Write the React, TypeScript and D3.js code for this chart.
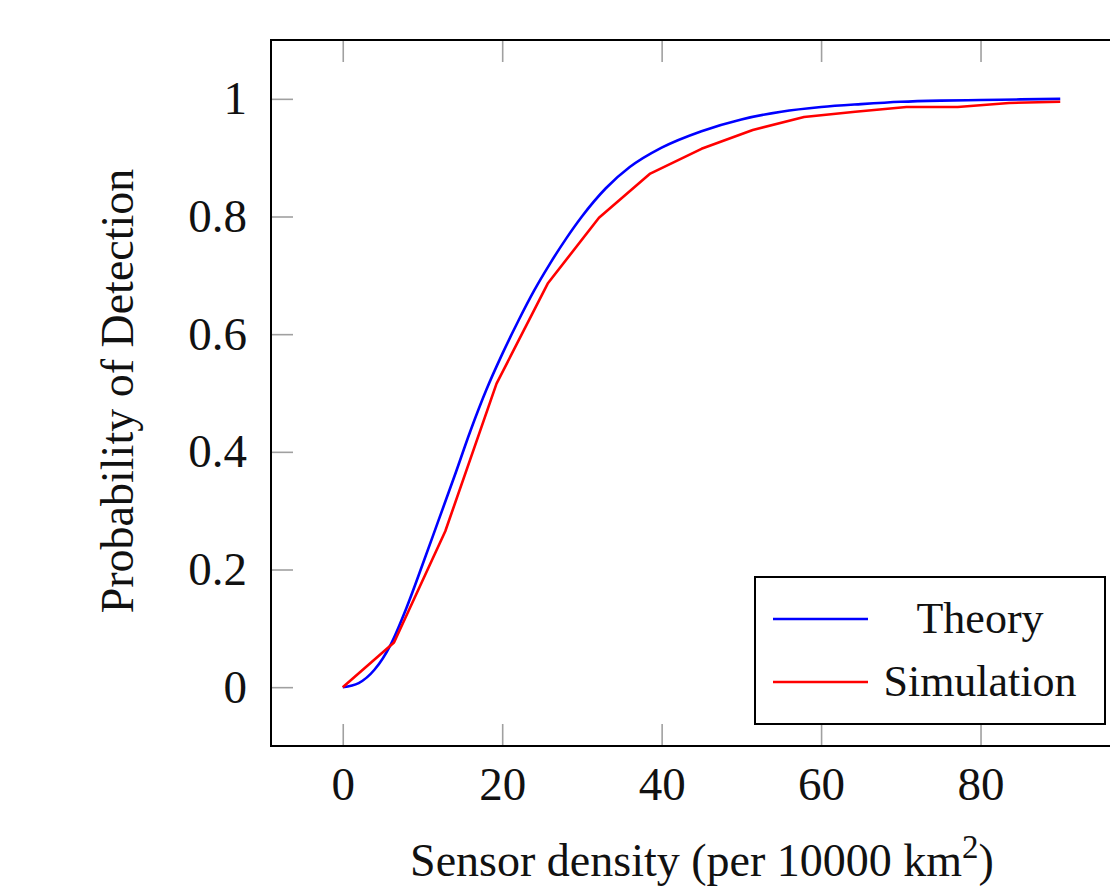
import React, { useEffect, useRef } from "react";
import * as d3 from "d3";

// theory curve (smooth)
const theoryX = [0, 2, 4, 6, 8, 10, 12, 14, 16, 18, 20, 22, 24, 26, 28, 30, 33, 36, 40, 45, 50, 55, 60, 65, 70, 75, 80, 85, 90];
const theoryY = [0, 0.007, 0.03, 0.072, 0.135, 0.208, 0.283, 0.358, 0.435, 0.505, 0.566, 0.622, 0.674, 0.72, 0.762, 0.8, 0.848, 0.884, 0.917, 0.945, 0.965, 0.978, 0.986, 0.991, 0.995, 0.997, 0.998, 0.999, 1.0];

// simulation points
const simX = [0, 6.43, 12.86, 19.29, 25.71, 32.14, 38.57, 45, 51.43, 57.86, 64.29, 70.71, 77.14, 83.57, 90];
const simY = [0, 0.076, 0.265, 0.516, 0.686, 0.798, 0.873, 0.915, 0.947, 0.969, 0.978, 0.986, 0.986, 0.993, 0.995];

const xTicks = [0, 20, 40, 60, 80];
const yTicks = [0, 0.2, 0.4, 0.6, 0.8, 1];

const seriesNames = ["Theory", "Simulation"];
const seriesColors = ["#0000ff", "#ff0000"];

const FONT = "'Liberation Serif', 'Times New Roman', serif";

export default function App() {
  const svgRef = useRef<SVGSVGElement>(null);

  useEffect(() => {
    const svg = d3.select(svgRef.current);
    svg.selectAll("*").remove();

    const width = 1110;
    const height = 886;
    const plot = { left: 271, top: 40, right: 1132, bottom: 746 };

    const x = d3.scaleLinear().domain([-9, 99]).range([plot.left, plot.right]);
    const y = d3.scaleLinear().domain([-0.1, 1.1]).range([plot.bottom, plot.top]);

    svg.append("rect").attr("width", width).attr("height", height).attr("fill", "#fff");

    const tickLen = 22;
    const styleAxis = (g: any) => {
      g.select(".domain").remove();
      g.selectAll("line").attr("stroke", "#a0a0a0").attr("stroke-width", 1.6);
      g.selectAll("text")
        .attr("fill", "#111")
        .style("font-family", FONT)
        .style("font-size", "47px");
    };

    svg.append("g")
      .attr("transform", `translate(0,${plot.bottom})`)
      .call(d3.axisBottom(x).tickValues(xTicks).tickSize(-tickLen).tickPadding(21).tickFormat(d3.format("d")))
      .call(styleAxis);

    svg.append("g")
      .attr("transform", `translate(0,${plot.top})`)
      .call(d3.axisTop(x).tickValues(xTicks).tickSize(-tickLen).tickFormat(() => ""))
      .call(styleAxis);

    svg.append("g")
      .attr("transform", `translate(${plot.left},0)`)
      .call(d3.axisLeft(y).tickValues(yTicks).tickSize(-tickLen).tickPadding(24).tickFormat((d: any) => (d === 0 || d === 1 ? String(d) : d3.format(".1f")(d))))
      .call(styleAxis);

    svg.append("g")
      .attr("transform", `translate(${plot.right},0)`)
      .call(d3.axisRight(y).tickValues(yTicks).tickSize(-tickLen).tickFormat(() => ""))
      .call(styleAxis);

    // plot frame
    svg.append("rect")
      .attr("x", plot.left)
      .attr("y", plot.top)
      .attr("width", plot.right - plot.left)
      .attr("height", plot.bottom - plot.top)
      .attr("fill", "none")
      .attr("stroke", "#000")
      .attr("stroke-width", 2);

    const theory = theoryX.map((v, i) => [v, theoryY[i]] as [number, number]);
    const sim = simX.map((v, i) => [v, simY[i]] as [number, number]);

    svg.append("path")
      .datum(theory)
      .attr("fill", "none")
      .attr("stroke", seriesColors[0])
      .attr("stroke-width", 2.6)
      .attr("d", d3.line<[number, number]>().x(d => x(d[0])).y(d => y(d[1])).curve(d3.curveMonotoneX));

    svg.append("path")
      .datum(sim)
      .attr("fill", "none")
      .attr("stroke", seriesColors[1])
      .attr("stroke-width", 2.6)
      .attr("stroke-linejoin", "round")
      .attr("d", d3.line<[number, number]>().x(d => x(d[0])).y(d => y(d[1])));

    // legend
    const lg = svg.append("g").attr("transform", "translate(755,577)");
    lg.append("rect")
      .attr("width", 350)
      .attr("height", 147)
      .attr("fill", "#fff")
      .attr("stroke", "#000")
      .attr("stroke-width", 2);
    seriesNames.forEach((name, i) => {
      const cy = 42 + i * 63;
      lg.append("line")
        .attr("x1", 18).attr("x2", 113)
        .attr("y1", cy).attr("y2", cy)
        .attr("stroke", seriesColors[i])
        .attr("stroke-width", 2.6);
      lg.append("text")
        .attr("x", 225)
        .attr("y", cy + 14)
        .attr("text-anchor", "middle")
        .style("font-family", FONT)
        .style("font-size", "44px")
        .attr("fill", "#111")
        .text(name);
    });

    // axis titles
    const xl = svg.append("text")
      .attr("x", 702)
      .attr("y", 876)
      .attr("text-anchor", "middle")
      .style("font-family", FONT)
      .style("font-size", "46px")
      .attr("fill", "#111");
    xl.append("tspan").text("Sensor density (per 10000 km");
    xl.append("tspan").attr("dy", -18).style("font-size", "33px").text("2");
    xl.append("tspan").attr("dy", 18).text(")");

    svg.append("text")
      .attr("transform", "translate(133,391) rotate(-90)")
      .attr("text-anchor", "middle")
      .style("font-family", FONT)
      .style("font-size", "46px")
      .attr("fill", "#111")
      .text("Probability of Detection");
  }, []);

  return (
    <svg
      ref={svgRef}
      width={1110}
      height={886}
      style={{ position: "absolute", left: 0, top: 0, display: "block" }}
    />
  );
}
